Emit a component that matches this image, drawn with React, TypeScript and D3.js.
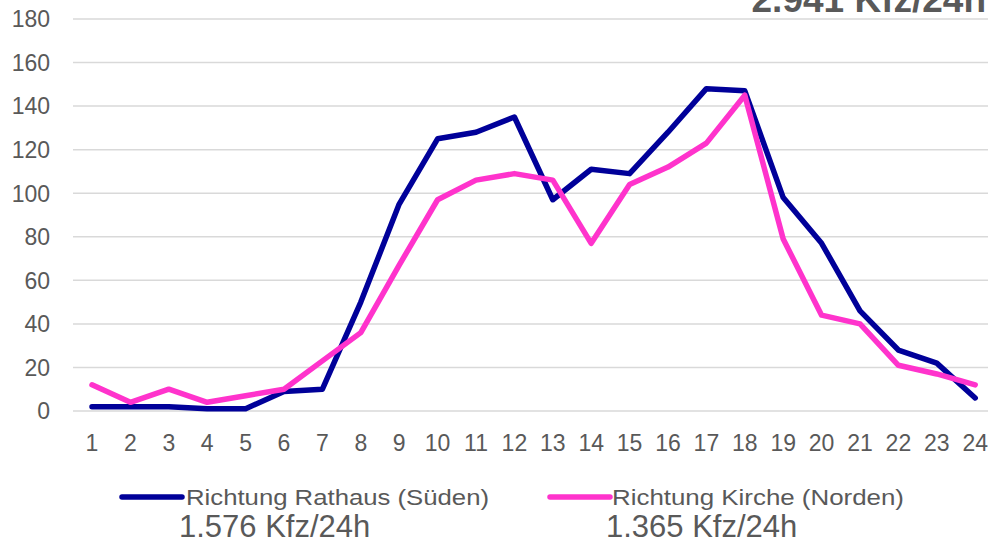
import React from "react";
import * as d3 from "d3";

const hours = ["1","2","3","4","5","6","7","8","9","10","11","12","13","14","15","16","17","18","19","20","21","22","23","24"];
const rathaus = [2,2,2,1,1,9,10,50,95,125,128,135,97,111,109,128,148,147,98,77,46,28,22,6];
const kirche = [12,4,10,4,7,10,23,36,67,97,106,109,106,77,104,112,123,145,79,44,40,21,17,12];
const yTicks = [0,20,40,60,80,100,120,140,160,180];
const seriesNames = ["Richtung Rathaus (Süden)", "Richtung Kirche (Norden)"];
const seriesTotals = ["1.576 Kfz/24h", "1.365 Kfz/24h"];
const totalLabel = "2.941 Kfz/24h";
const colors = ["#000099", "#ff33cc"];

const W = 988, H = 543;
const FONT = "'Liberation Sans', Arial, sans-serif";
const TXT = "#595959";

export default function App() {
  const x = d3.scaleBand<string>().domain(hours).range([72.8, 994.4]).padding(0);
  const y = d3.scaleLinear().domain([0, 180]).range([411, 19]);
  const cx = (h: string) => (x(h) as number) + x.bandwidth() / 2;
  const line = d3.line<number>().x((_, i) => cx(hours[i])).y((v) => y(v));
  const data = [rathaus, kirche];
  const legendX = [122, 550];
  const legendTextX = [186, 612];
  const legendLen = [303, 292];
  const totalX = [179, 606];

  return (
    <svg width={W} height={H} style={{ position: "absolute", left: 0, top: 0, background: "#fff" }} fontFamily={FONT}>
      <rect width={W} height={H} fill="#fff" />
      {yTicks.map((t) => (
        <g key={t}>
          <line x1={73} x2={W} y1={y(t)} y2={y(t)} stroke="#d9d9d9" strokeWidth={1.5} />
          <text x={50} y={y(t)} dy="0.36em" textAnchor="end" fontSize={23} fill={TXT}>{t}</text>
        </g>
      ))}
      {hours.map((h) => (
        <text key={h} x={cx(h)} y={451} textAnchor="middle" fontSize={23} fill={TXT}>{h}</text>
      ))}
      {data.map((d, i) => (
        <path key={i} d={line(d) as string} fill="none" stroke={colors[i]} strokeWidth={5.5} strokeLinejoin="round" strokeLinecap="round" />
      ))}
      <text x={986} y={12} textAnchor="end" fontSize={37} fontWeight="bold" fill={TXT}>{totalLabel}</text>
      {seriesNames.map((n, i) => (
        <g key={n}>
          <line x1={legendX[i]} x2={legendX[i] + 60} y1={497} y2={497} stroke={colors[i]} strokeWidth={5.5} strokeLinecap="round" />
          <text x={legendTextX[i]} y={505} fontSize={22} fill={TXT} textLength={legendLen[i]} lengthAdjust="spacingAndGlyphs">{n}</text>
          <text x={totalX[i]} y={537} fontSize={31} fill={TXT}>{seriesTotals[i]}</text>
        </g>
      ))}
    </svg>
  );
}
